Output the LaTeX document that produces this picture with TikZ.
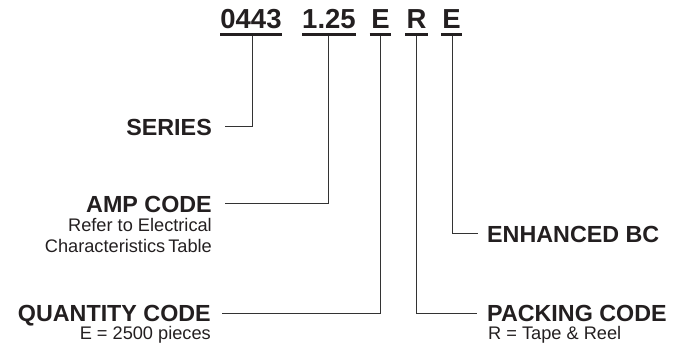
\documentclass[tikz,border=0pt]{standalone}
\usepackage{fontspec}
\setmainfont{Liberation Sans}
\definecolor{ink}{HTML}{231F20}
\definecolor{wire}{HTML}{333333}
\begin{document}
\begin{tikzpicture}[x=1pt,y=-1pt,
  code/.style={inner sep=0pt, text depth=0pt, anchor=base, text=ink, font=\bfseries\fontsize{27.5}{30}\selectfont},
  lbl/.style={inner sep=0pt, text depth=0pt, text=ink, font=\bfseries\fontsize{23.3}{28}\selectfont},
  sub/.style={inner sep=0pt, text=ink, font=\fontsize{18.2}{20}\selectfont},
  uline/.style={draw=ink, line width=2.6pt},
  conn/.style={draw=wire, line width=1pt}
]
\useasboundingbox (0,0) rectangle (683,349);
% top code
\node[code] (c1) at (251,28) {0443};
\node[code] (c2) at (329,28) {1.25};
\node[code] (c3) at (380.5,28) {E};
\node[code] (c4) at (416.5,28) {R};
\node[code] (c5) at (451.5,28) {E};
\foreach \n/\e in {c1/0,c2/0,c3/1.5,c4/1,c5/1.2}{
  \draw[uline] ([xshift=-\e pt,yshift=-6pt]\n.south west) -- ([xshift=\e pt,yshift=-6pt]\n.south east);
}
% labels
\node[lbl, anchor=base east] (series) at (212,135) {SERIES};
\node[lbl, anchor=base east] (amp) at (212,212) {AMP CODE};
\node[sub, anchor=base east] (amp1) at (212,231) {Refer to Electrical};
\node[sub, anchor=base east] (amp2) at (212,252.5) {Characteristics\kern3pt Table};
\node[lbl, anchor=base east] (qty) at (211,321.5) {QUANTITY CODE};
\node[sub, anchor=base east] (qty1) at (211,339.5) {E = 2500 pieces};
\node[lbl, anchor=base west] (enh) at (487,242) {ENHANCED BC};
\node[lbl, anchor=base west] (pack) at (487,321.5) {PACKING CODE};
\node[sub, anchor=base west] (pack1) at (488,339.5) {R = Tape \& Reel};
% connectors
\draw[conn] ([xshift=1pt,yshift=-7.3pt]c1.south) |- ([xshift=13pt]series.east);
\draw[conn] ([xshift=-1pt,yshift=-7.3pt]c2.south) |- ([xshift=13pt]amp.east);
\draw[conn] ([xshift=-0.5pt,yshift=-7.3pt]c3.south) |- ([xshift=11pt]qty.east);
\draw[conn] ([xshift=-0.5pt,yshift=-7.3pt]c4.south) |- ([xshift=-10pt]pack.west);
\draw[conn] ([xshift=0.5pt,yshift=-7.3pt]c5.south) |- ([xshift=-9pt]enh.west);
\end{tikzpicture}
\end{document}
